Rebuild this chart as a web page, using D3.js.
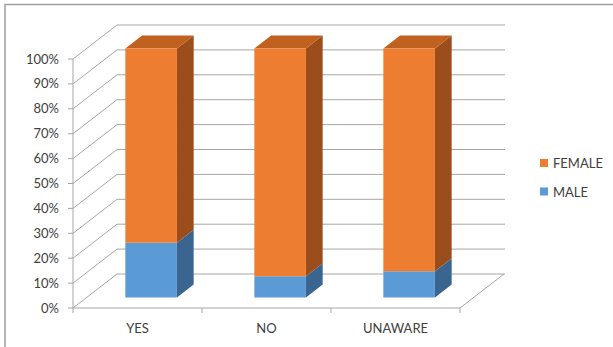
<!DOCTYPE html>
<html><head><meta charset="utf-8">
<script src="https://cdn.jsdelivr.net/npm/d3@7/dist/d3.min.js"></script>
<style>body{margin:0;background:#fff}svg{display:block}text{font-family:Lato,"Open Sans",sans-serif;fill:#404040}</style>
</head><body><svg id="c" width="613" height="347"></svg>
<script>
const categories = ["YES", "NO", "UNAWARE"];
const maleValues = [22, 8.5, 10.5];
const femaleValues = [78, 91.5, 89.5];
const seriesNames = ["FEMALE", "MALE"];
const yTicks = [0,10,20,30,40,50,60,70,80,90,100];

const svg = d3.select("#c");
const x = d3.scaleBand().domain(categories).range([73,460]).paddingInner(0).paddingOuter(0);
const y = d3.scaleLinear().domain([0,100]).range([308,59]);
const D = {dx:44, dy:-34};
const fF = 0.31, fB = 0.69;
const barW = x.bandwidth()*0.4;
const grid = "#a6a6a6";

// border
svg.append("path").attr("d","M5,347V4.5H613").attr("fill","none").attr("stroke","#a0a0a0").attr("stroke-width",1.5);

const g = svg.append("g");
// back wall gridlines
yTicks.forEach(t=>{
  const yy = y(t)+D.dy;
  g.append("line").attr("x1",73+D.dx).attr("x2",460+D.dx+1).attr("y1",yy).attr("y2",yy).attr("stroke",grid);
  g.append("line").attr("x1",73).attr("x2",73+D.dx).attr("y1",y(t)).attr("y2",yy).attr("stroke",grid);
  g.append("line").attr("x1",68).attr("x2",73).attr("y1",y(t)).attr("y2",y(t)).attr("stroke",grid);
  g.append("text").attr("x",59).attr("y",y(t)+4.5).attr("text-anchor","end").attr("font-size",13).text(t+"%");
});
// left axis line
g.append("line").attr("x1",73).attr("x2",73).attr("y1",y(100)).attr("y2",y(0)).attr("stroke",grid);
// floor
g.append("path").attr("d",`M73,${y(0)}H460L${460+D.dx},${y(0)+D.dy}`).attr("fill","none").attr("stroke",grid);
// category ticks
[73,...categories.map(c=>x(c)+x.bandwidth())].forEach(px=>{
  g.append("line").attr("x1",px).attr("x2",px).attr("y1",y(0)).attr("y2",y(0)+5).attr("stroke",grid);
});
categories.forEach(c=>{
  g.append("text").attr("x",x(c)+x.bandwidth()/2).attr("y",333).attr("text-anchor","middle").attr("font-size",13).text(c);
});

const cols = {
  MALE:{front:"#5b9bd5",side:"#3a6590",top:"#4a80b3"},
  FEMALE:{front:"#ed7d31",side:"#9b4e1c",top:"#c0611f"}
};
function pt(px,v,f){return [px+D.dx*f, y(v)+D.dy*f];}
function poly(pts,fill){g.append("polygon").attr("points",pts.map(p=>p.join(",")).join(" ")).attr("fill",fill);}

categories.forEach((c,i)=>{
  const x0 = x(c)+(x.bandwidth()-barW)/2, x1 = x0+barW;
  const segs = [{n:"MALE",a:0,b:maleValues[i]},{n:"FEMALE",a:maleValues[i],b:maleValues[i]+femaleValues[i]}];
  segs.forEach((s,k)=>{
    const col = cols[s.n];
    // side
    poly([pt(x1,s.a,fF),pt(x1,s.a,fB),pt(x1,s.b,fB),pt(x1,s.b,fF)],col.side);
    // top
    if(k===segs.length-1) poly([pt(x0,s.b,fF),pt(x1,s.b,fF),pt(x1,s.b,fB),pt(x0,s.b,fB)],col.top);
    // front
    poly([pt(x0,s.a,fF),pt(x1,s.a,fF),pt(x1,s.b,fF),pt(x0,s.b,fF)],col.front);
  });
});

// legend
const leg = svg.append("g");
seriesNames.forEach((n,i)=>{
  leg.append("rect").attr("x",540).attr("y",159+i*28.5).attr("width",8).attr("height",8).attr("fill",cols[n].front);
  leg.append("text").attr("x",553).attr("y",168+i*28.5).attr("font-size",13).text(n);
});
</script></body></html>
